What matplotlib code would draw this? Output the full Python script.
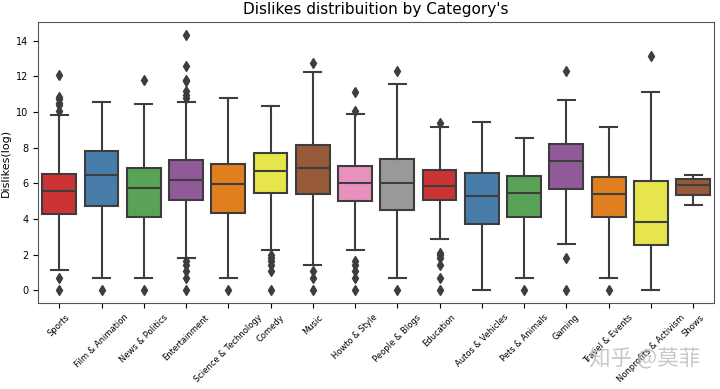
import matplotlib
matplotlib.use("Agg")
import matplotlib.pyplot as plt
import seaborn as sns

categories = ["Sports", "Film & Animation", "News & Politics", "Entertainment",
              "Science & Technology", "Comedy", "Music", "Howto & Style",
              "People & Blogs", "Education", "Autos & Vehicles", "Pets & Animals",
              "Gaming", "Travel & Events", "Nonprofits & Activism", "Shows"]
q1 = [4.26, 4.71, 4.13, 5.05, 4.32, 5.47, 5.42, 4.99, 4.51, 5.03, 3.69, 4.13, 5.66, 4.08, 2.53, 5.32]
med = [5.59, 6.46, 5.73, 6.20, 5.96, 6.70, 6.83, 6.01, 6.01, 5.83, 5.31, 5.44, 7.22, 5.40, 3.85, 5.88]
q3 = [6.53, 7.80, 6.83, 7.32, 7.07, 7.71, 8.17, 6.98, 7.37, 6.74, 6.59, 6.40, 8.19, 6.35, 6.11, 6.26]
whislo = [1.15, 0.71, 0.71, 1.82, 0.71, 2.25, 1.41, 2.25, 0.71, 2.89, 0.0, 0.71, 2.59, 0.71, 0.0, 4.75]
whishi = [9.81, 10.56, 10.46, 10.56, 10.80, 10.31, 12.23, 9.90, 11.58, 9.16, 9.44, 8.53, 10.65, 9.16, 11.10, 6.44]
fliers = [
    [12.05, 10.85, 10.7, 10.5, 10.4, 10.05, 0.69, 0.0],
    [0.0],
    [11.77, 0.0],
    [14.32, 12.57, 11.8, 11.75, 11.15, 10.95, 10.8, 1.61, 1.39, 1.1, 0.69, 0.0],
    [0.0],
    [1.95, 1.79, 1.61, 1.39, 1.1, 0.0],
    [12.75, 1.1, 0.69, 0.0],
    [11.12, 10.05, 1.61, 1.39, 1.1, 0.69, 0.0],
    [12.31, 0.0],
    [9.35, 2.08, 1.95, 1.79, 1.39, 0.69, 0.0],
    [],
    [0.0],
    [12.27, 1.79, 0.0],
    [0.0],
    [13.13],
    [],
]

stats = []
for i, c in enumerate(categories):
    stats.append(dict(label=c, q1=q1[i], med=med[i], q3=q3[i],
                      whislo=whislo[i], whishi=whishi[i], fliers=fliers[i]))

pal = [sns.desaturate(c, 0.75) for c in sns.color_palette("Set1", 9)]
colors = [pal[i % 9] for i in range(len(categories))]
gray = "#3d3d3d"

fig = plt.figure(figsize=(7.2, 3.89), dpi=100)
ax = fig.add_axes([0.053, 0.221, 0.939, 0.722])
bp = ax.bxp(stats, positions=range(len(categories)), widths=0.8, patch_artist=True,
            boxprops=dict(edgecolor=gray, linewidth=1.5),
            medianprops=dict(color=gray, linewidth=1.5),
            whiskerprops=dict(color=gray, linewidth=1.5),
            capprops=dict(color=gray, linewidth=1.5),
            flierprops=dict(marker="d", markerfacecolor=gray, markeredgecolor=gray,
                            markersize=5, linestyle="none"))
for patch, col in zip(bp["boxes"], colors):
    patch.set_facecolor(col)

ax.set_xlim(-0.5, len(categories) - 0.5)
ax.set_ylim(-0.72, 15.03)
ax.set_xticks(range(len(categories)))
ax.set_xticklabels(categories, rotation=45, fontsize=6)
ax.set_yticks([0, 2, 4, 6, 8, 10, 12, 14])
ax.tick_params(axis="y", labelsize=7)
ax.set_ylabel("Dislikes(log)", fontsize=8)
ax.yaxis.set_label_coords(-0.04, 0.5)
ax.set_title("Dislikes distribuition by Category's", fontsize=11)
for s in ax.spines.values():
    s.set_color("#555555")

fig.text(0.896, 0.075, "知乎 @莫菲", fontsize=15.5, color="#bbbbbb", alpha=0.8,
         ha="center", va="center", family=["Noto Sans CJK SC", "DejaVu Sans"])

fig.savefig("out.png", dpi=100)
